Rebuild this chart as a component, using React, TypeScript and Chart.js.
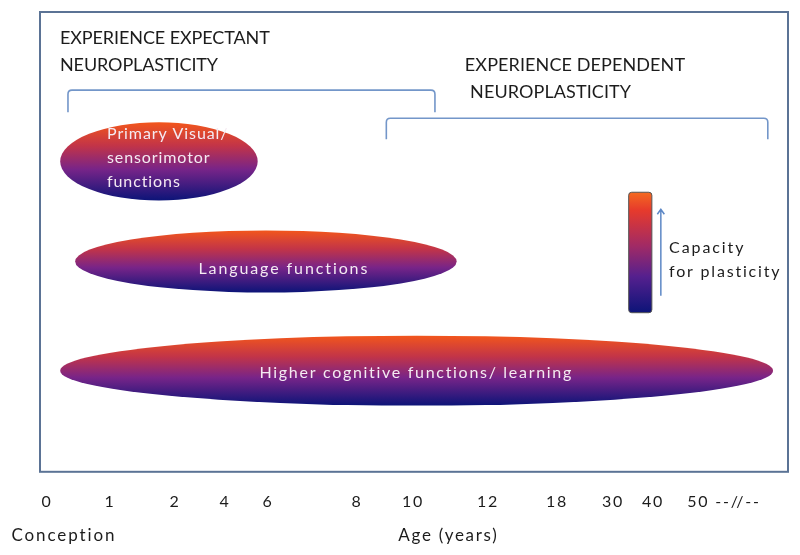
import React, { useEffect, useRef } from "react";
import { Chart, registerables } from "chart.js";

Chart.register(...registerables);

// ---- Axis (age) ticks: position on the diagram axis and its label ----
const tickPositions = [0.94, 9.36, 18.05, 24.73, 30.48, 42.38, 49.87, 59.89, 69.12, 76.6, 81.95, 91.44];
const tickLabels = ["0", "1", "2", "4", "6", "8", "10", "12", "18", "30", "40", "50 --//--"];

// ---- Function bands (ellipses) ----
const bandNames = ["Primary Visual/\nsensorimotor\nfunctions", "Language functions", "Higher cognitive functions/ learning"];
const bandStart = [2.7, 4.7, 2.7];
const bandEnd = [29.1, 55.7, 98.0];
const bandTop = [76.0, 52.5, 29.6];
const bandBottom = [59.0, 39.0, 14.4];

// ---- Neuroplasticity periods (brackets) ----
const periodNames = ["EXPERIENCE EXPECTANT\nNEUROPLASTICITY", "EXPERIENCE DEPENDENT\nNEUROPLASTICITY"];
const periodStart = [3.74, 46.3];
const periodEnd = [52.8, 97.3];
const periodTop = [83.0, 76.9];
const periodBottom = [78.2, 72.3];

// ---- Capacity scale ----
const capacityLabel = ["Capacity", "for plasticity"];
const capacityBar = { x0: 78.7, x1: 81.8, yTop: 60.8, yBottom: 34.6 };
const capacityArrow = { x: 83.0, yFrom: 38.3, yTo: 57.1 };

// ---- Axis captions ----
const axisCaptions = ["Conception", "Age (years)"];

const FONT = "Lato, 'Open Sans', 'DejaVu Sans', sans-serif";

type TextItem = { text: string; x: number; y: number; align: CanvasTextAlign; size: number; spacing: number; color: string };

const DARK = "#1c1c1c";
const LIGHT = "#f4eaf2";

const textItems: TextItem[] = [
  { text: periodNames[0].split("\n")[0], x: 2.67, y: 94.3, align: "left", size: 18, spacing: -0.1, color: DARK },
  { text: periodNames[0].split("\n")[1], x: 2.67, y: 88.5, align: "left", size: 18, spacing: -0.1, color: DARK },
  { text: periodNames[1].split("\n")[0], x: 56.8, y: 88.5, align: "left", size: 18, spacing: 0.1, color: DARK },
  { text: periodNames[1].split("\n")[1], x: 57.5, y: 82.6, align: "left", size: 18, spacing: 0.1, color: DARK },
  { text: bandNames[0].split("\n")[0], x: 8.96, y: 73.4, align: "left", size: 16, spacing: 0.9, color: LIGHT },
  { text: bandNames[0].split("\n")[1], x: 8.96, y: 68.2, align: "left", size: 16, spacing: 0.9, color: LIGHT },
  { text: bandNames[0].split("\n")[2], x: 8.96, y: 63.0, align: "left", size: 16, spacing: 0.9, color: LIGHT },
  { text: bandNames[1], x: 32.6, y: 44.2, align: "center", size: 16, spacing: 1.9, color: LIGHT },
  { text: bandNames[2], x: 50.3, y: 21.6, align: "center", size: 16, spacing: 1.7, color: LIGHT },
  { text: capacityLabel[0], x: 84.1, y: 48.8, align: "left", size: 16, spacing: 1.9, color: DARK },
  { text: capacityLabel[1], x: 84.1, y: 43.4, align: "left", size: 16, spacing: 1.8, color: DARK },
  { text: axisCaptions[0], x: 3.2, y: -13.9, align: "center", size: 17, spacing: 1.9, color: DARK },
  { text: axisCaptions[1], x: 54.6, y: -13.9, align: "center", size: 17, spacing: 1.7, color: DARK },
];

function roundRectPath(ctx: CanvasRenderingContext2D, x: number, y: number, w: number, h: number, r: number) {
  ctx.beginPath();
  ctx.moveTo(x + r, y);
  ctx.lineTo(x + w - r, y);
  ctx.quadraticCurveTo(x + w, y, x + w, y + r);
  ctx.lineTo(x + w, y + h - r);
  ctx.quadraticCurveTo(x + w, y + h, x + w - r, y + h);
  ctx.lineTo(x + r, y + h);
  ctx.quadraticCurveTo(x, y + h, x, y + h - r);
  ctx.lineTo(x, y + r);
  ctx.quadraticCurveTo(x, y, x + r, y);
  ctx.closePath();
}

const diagramPlugin = {
  id: "diagram",
  beforeDraw(chart: any) {
    // wider letter spacing like the reference (affects axis tick labels too)
    (chart.ctx as any).letterSpacing = "1.8px";
  },
  afterDatasetsDraw(chart: any) {
    const { ctx, chartArea } = chart;
    const xs = chart.scales.x;
    const ys = chart.scales.y;
    const px = (v: number) => xs.getPixelForValue(v);
    const py = (v: number) => ys.getPixelForValue(v);
    ctx.save();

    // frame
    ctx.strokeStyle = "#5b7395";
    ctx.lineWidth = 2;
    ctx.strokeRect(chartArea.left, chartArea.top, chartArea.right - chartArea.left, chartArea.bottom - chartArea.top);

    // brackets
    ctx.strokeStyle = "#7396c9";
    ctx.lineWidth = 1.6;
    for (let i = 0; i < periodNames.length; i++) {
      const x0 = px(periodStart[i]);
      const x1 = px(periodEnd[i]);
      const yt = py(periodTop[i]);
      const yb = py(periodBottom[i]);
      const r = 4;
      ctx.beginPath();
      ctx.moveTo(x0, yb);
      ctx.lineTo(x0, yt + r);
      ctx.quadraticCurveTo(x0, yt, x0 + r, yt);
      ctx.lineTo(x1 - r, yt);
      ctx.quadraticCurveTo(x1, yt, x1, yt + r);
      ctx.lineTo(x1, yb);
      ctx.stroke();
    }

    // ellipses
    for (let i = 0; i < bandNames.length; i++) {
      const x0 = px(bandStart[i]);
      const x1 = px(bandEnd[i]);
      const yt = py(bandTop[i]);
      const yb = py(bandBottom[i]);
      const g = ctx.createLinearGradient(0, yt, 0, yb);
      g.addColorStop(0, "#f2561c");
      g.addColorStop(0.3, "#c23448");
      g.addColorStop(0.6, "#782488");
      g.addColorStop(1, "#0c1478");
      ctx.fillStyle = g;
      ctx.beginPath();
      ctx.ellipse((x0 + x1) / 2, (yt + yb) / 2, (x1 - x0) / 2, (yb - yt) / 2, 0, 0, Math.PI * 2);
      ctx.fill();
    }

    // capacity bar
    {
      const x0 = px(capacityBar.x0);
      const x1 = px(capacityBar.x1);
      const yt = py(capacityBar.yTop);
      const yb = py(capacityBar.yBottom);
      const g = ctx.createLinearGradient(0, yt, 0, yb);
      g.addColorStop(0, "#f46a20");
      g.addColorStop(0.15, "#e63a2c");
      g.addColorStop(0.45, "#a02a66");
      g.addColorStop(0.7, "#55208e");
      g.addColorStop(1, "#0c1478");
      roundRectPath(ctx, x0, yt, x1 - x0, yb - yt, 3);
      ctx.fillStyle = g;
      ctx.fill();
      ctx.strokeStyle = "#555";
      ctx.lineWidth = 1;
      ctx.stroke();
    }

    // arrow
    {
      const x = px(capacityArrow.x);
      const y0 = py(capacityArrow.yFrom);
      const y1 = py(capacityArrow.yTo);
      ctx.strokeStyle = "#5d88c6";
      ctx.lineWidth = 1.5;
      ctx.beginPath();
      ctx.moveTo(x, y0);
      ctx.lineTo(x, y1);
      ctx.moveTo(x - 3.5, y1 + 5);
      ctx.lineTo(x, y1);
      ctx.lineTo(x + 3.5, y1 + 5);
      ctx.stroke();
    }

    // texts
    ctx.textBaseline = "middle";
    for (const t of textItems) {
      ctx.font = `${t.size}px ${FONT}`;
      (ctx as any).letterSpacing = `${t.spacing}px`;
      ctx.fillStyle = t.color;
      ctx.textAlign = t.align;
      ctx.fillText(t.text, px(t.x), py(t.y));
    }
    ctx.restore();
  },
};

export default function App() {
  const ref = useRef<HTMLCanvasElement | null>(null);
  useEffect(() => {
    if (!ref.current) return;
    const chart = new Chart(ref.current, {
      type: "scatter",
      data: { datasets: [{ data: [], pointRadius: 0 }] },
      options: {
        responsive: true,
        maintainAspectRatio: false,
        animation: false,
        layout: { padding: { left: 40, right: 12, top: 12, bottom: 24 } },
        plugins: { legend: { display: false }, tooltip: { enabled: false } },
        scales: {
          x: {
            type: "linear",
            min: 0,
            max: 100,
            grid: { display: false, drawTicks: false },
            border: { display: false },
            afterBuildTicks: (s: any) => {
              s.ticks = tickPositions.map((v) => ({ value: v }));
            },
            ticks: {
              autoSkip: false,
              maxRotation: 0,
              minRotation: 0,
              padding: 20,
              color: DARK,
              font: { family: FONT, size: 16 },
              callback: (_v: any, i: number) => tickLabels[i],
            },
          },
          y: { type: "linear", min: 0, max: 100, display: false },
        },
      } as any,
      plugins: [diagramPlugin],
    });
    return () => chart.destroy();
  }, []);
  return (
    <div style={{ position: "fixed", left: 0, top: 0, width: 800, height: 555, background: "#fff" }}>
      <canvas ref={ref} />
    </div>
  );
}
